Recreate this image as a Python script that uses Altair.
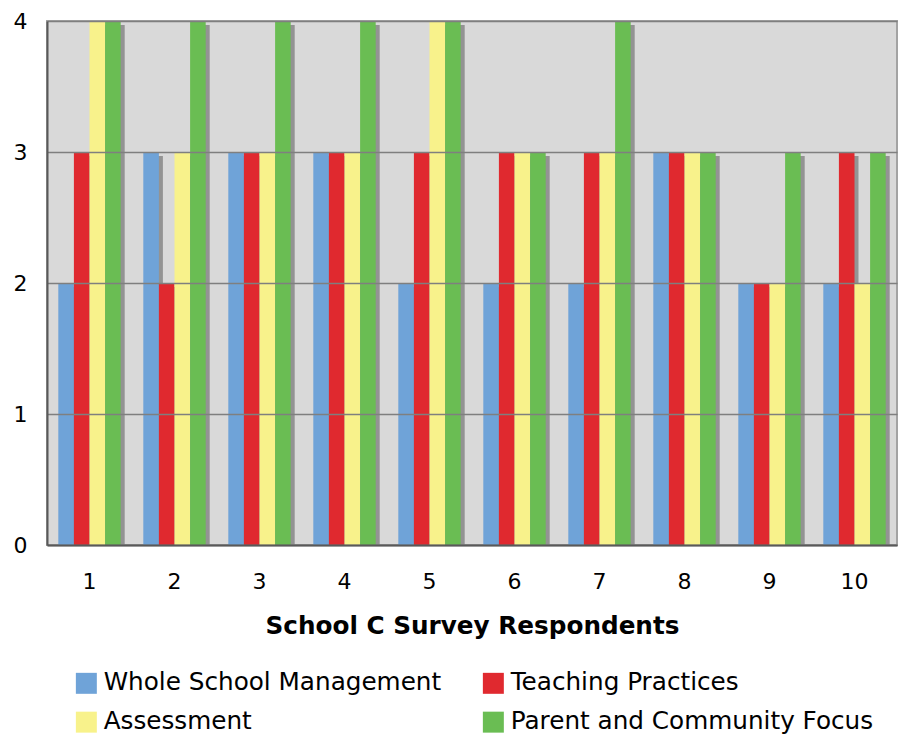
import altair as alt
import pandas as pd

respondents = ["1", "2", "3", "4", "5", "6", "7", "8", "9", "10"]
series = ["Whole School Management", "Teaching Practices", "Assessment", "Parent and Community Focus"]
whole_school = [2, 3, 3, 3, 2, 2, 2, 3, 2, 2]
teaching = [3, 2, 3, 3, 3, 3, 3, 3, 2, 3]
assessment = [4, 3, 3, 3, 4, 3, 3, 3, 2, 2]
parent = [4, 4, 4, 4, 4, 3, 4, 3, 3, 3]
colors = ["#6FA3D8", "#E0292F", "#F8F28B", "#6ABD53"]

# legend is filled column by column: order entries so rows read as in the original
legend_order = [series[0], series[2], series[1], series[3]]
legend_colors = [colors[0], colors[2], colors[1], colors[3]]

values = [whole_school, teaching, assessment, parent]
rows = []
for s, vals in zip(series, values):
    for r, v in zip(respondents, vals):
        rows.append({"Respondent": r, "Series": s, "Value": v})
df = pd.DataFrame(rows)

FONT = "DejaVu Sans"

x_enc = alt.X("Respondent:N", sort=respondents,
              scale=alt.Scale(paddingInner=0.266, paddingOuter=0.133),
              axis=alt.Axis(title="School C Survey Respondents", labelAngle=0,
                            labelFontSize=22, labelPadding=26, ticks=False,
                            domainColor="#595959", domainWidth=2,
                            titleFontSize=24.7, titleFontWeight="bold",
                            titleY=88, titleBaseline="alphabetic", zindex=1))
y_axis = alt.Axis(title=None, values=[0, 1, 2, 3, 4], labelFontSize=22,
                  labelPadding=20, ticks=False, domainColor="#595959",
                  domainWidth=2, gridColor="#7f7f7f", gridWidth=1.5, zindex=1)
y_scale = alt.Scale(domain=[0, 4], nice=False)

# drop shadow: shifted right via offset range, top lowered by ~4px (4/131 of a unit)
shadow = alt.Chart(df).transform_calculate(
    ShadowTop="datum.Value - 4/131"
).mark_bar(color="#939393").encode(
    x=x_enc,
    xOffset=alt.XOffset("Series:N", sort=series,
                        scale=alt.Scale(range=[4, 66.4], paddingInner=0, paddingOuter=0)),
    y=alt.Y("ShadowTop:Q", scale=y_scale, axis=y_axis),
)

bars = alt.Chart(df).mark_bar().encode(
    x=x_enc,
    xOffset=alt.XOffset("Series:N", sort=series,
                        scale=alt.Scale(paddingInner=0, paddingOuter=0)),
    y=alt.Y("Value:Q", scale=y_scale, axis=y_axis),
    color=alt.Color("Series:N",
                    scale=alt.Scale(domain=legend_order, range=legend_colors),
                    legend=alt.Legend(title=None, orient="none", legendX=27, legendY=649.5,
                                      columns=2, columnPadding=39, rowPadding=13.3,
                                      symbolType="M-1,-1H1V1H-1Z", symbolSize=440,
                                      symbolStrokeWidth=0, labelFontSize=24.7,
                                      labelOffset=5, padding=0, labelLimit=500)),
)

chart = alt.layer(shadow, bars).resolve_scale(xOffset="independent").properties(
    width=850, height=524,
    autosize=alt.AutoSizeParams(type="none"),
    padding={"left": 47, "top": 21, "right": 1, "bottom": 191},
).configure(font=FONT).configure_view(
    fill="#D9D9D9", stroke="#a3a3a3", strokeWidth=2
).configure_axis(labelColor="#000000", titleColor="#000000", labelFont=FONT, titleFont=FONT
).configure_legend(labelColor="#000000", labelFont=FONT)

chart.save("out.html", embed_options={"renderer": "svg", "actions": False})
